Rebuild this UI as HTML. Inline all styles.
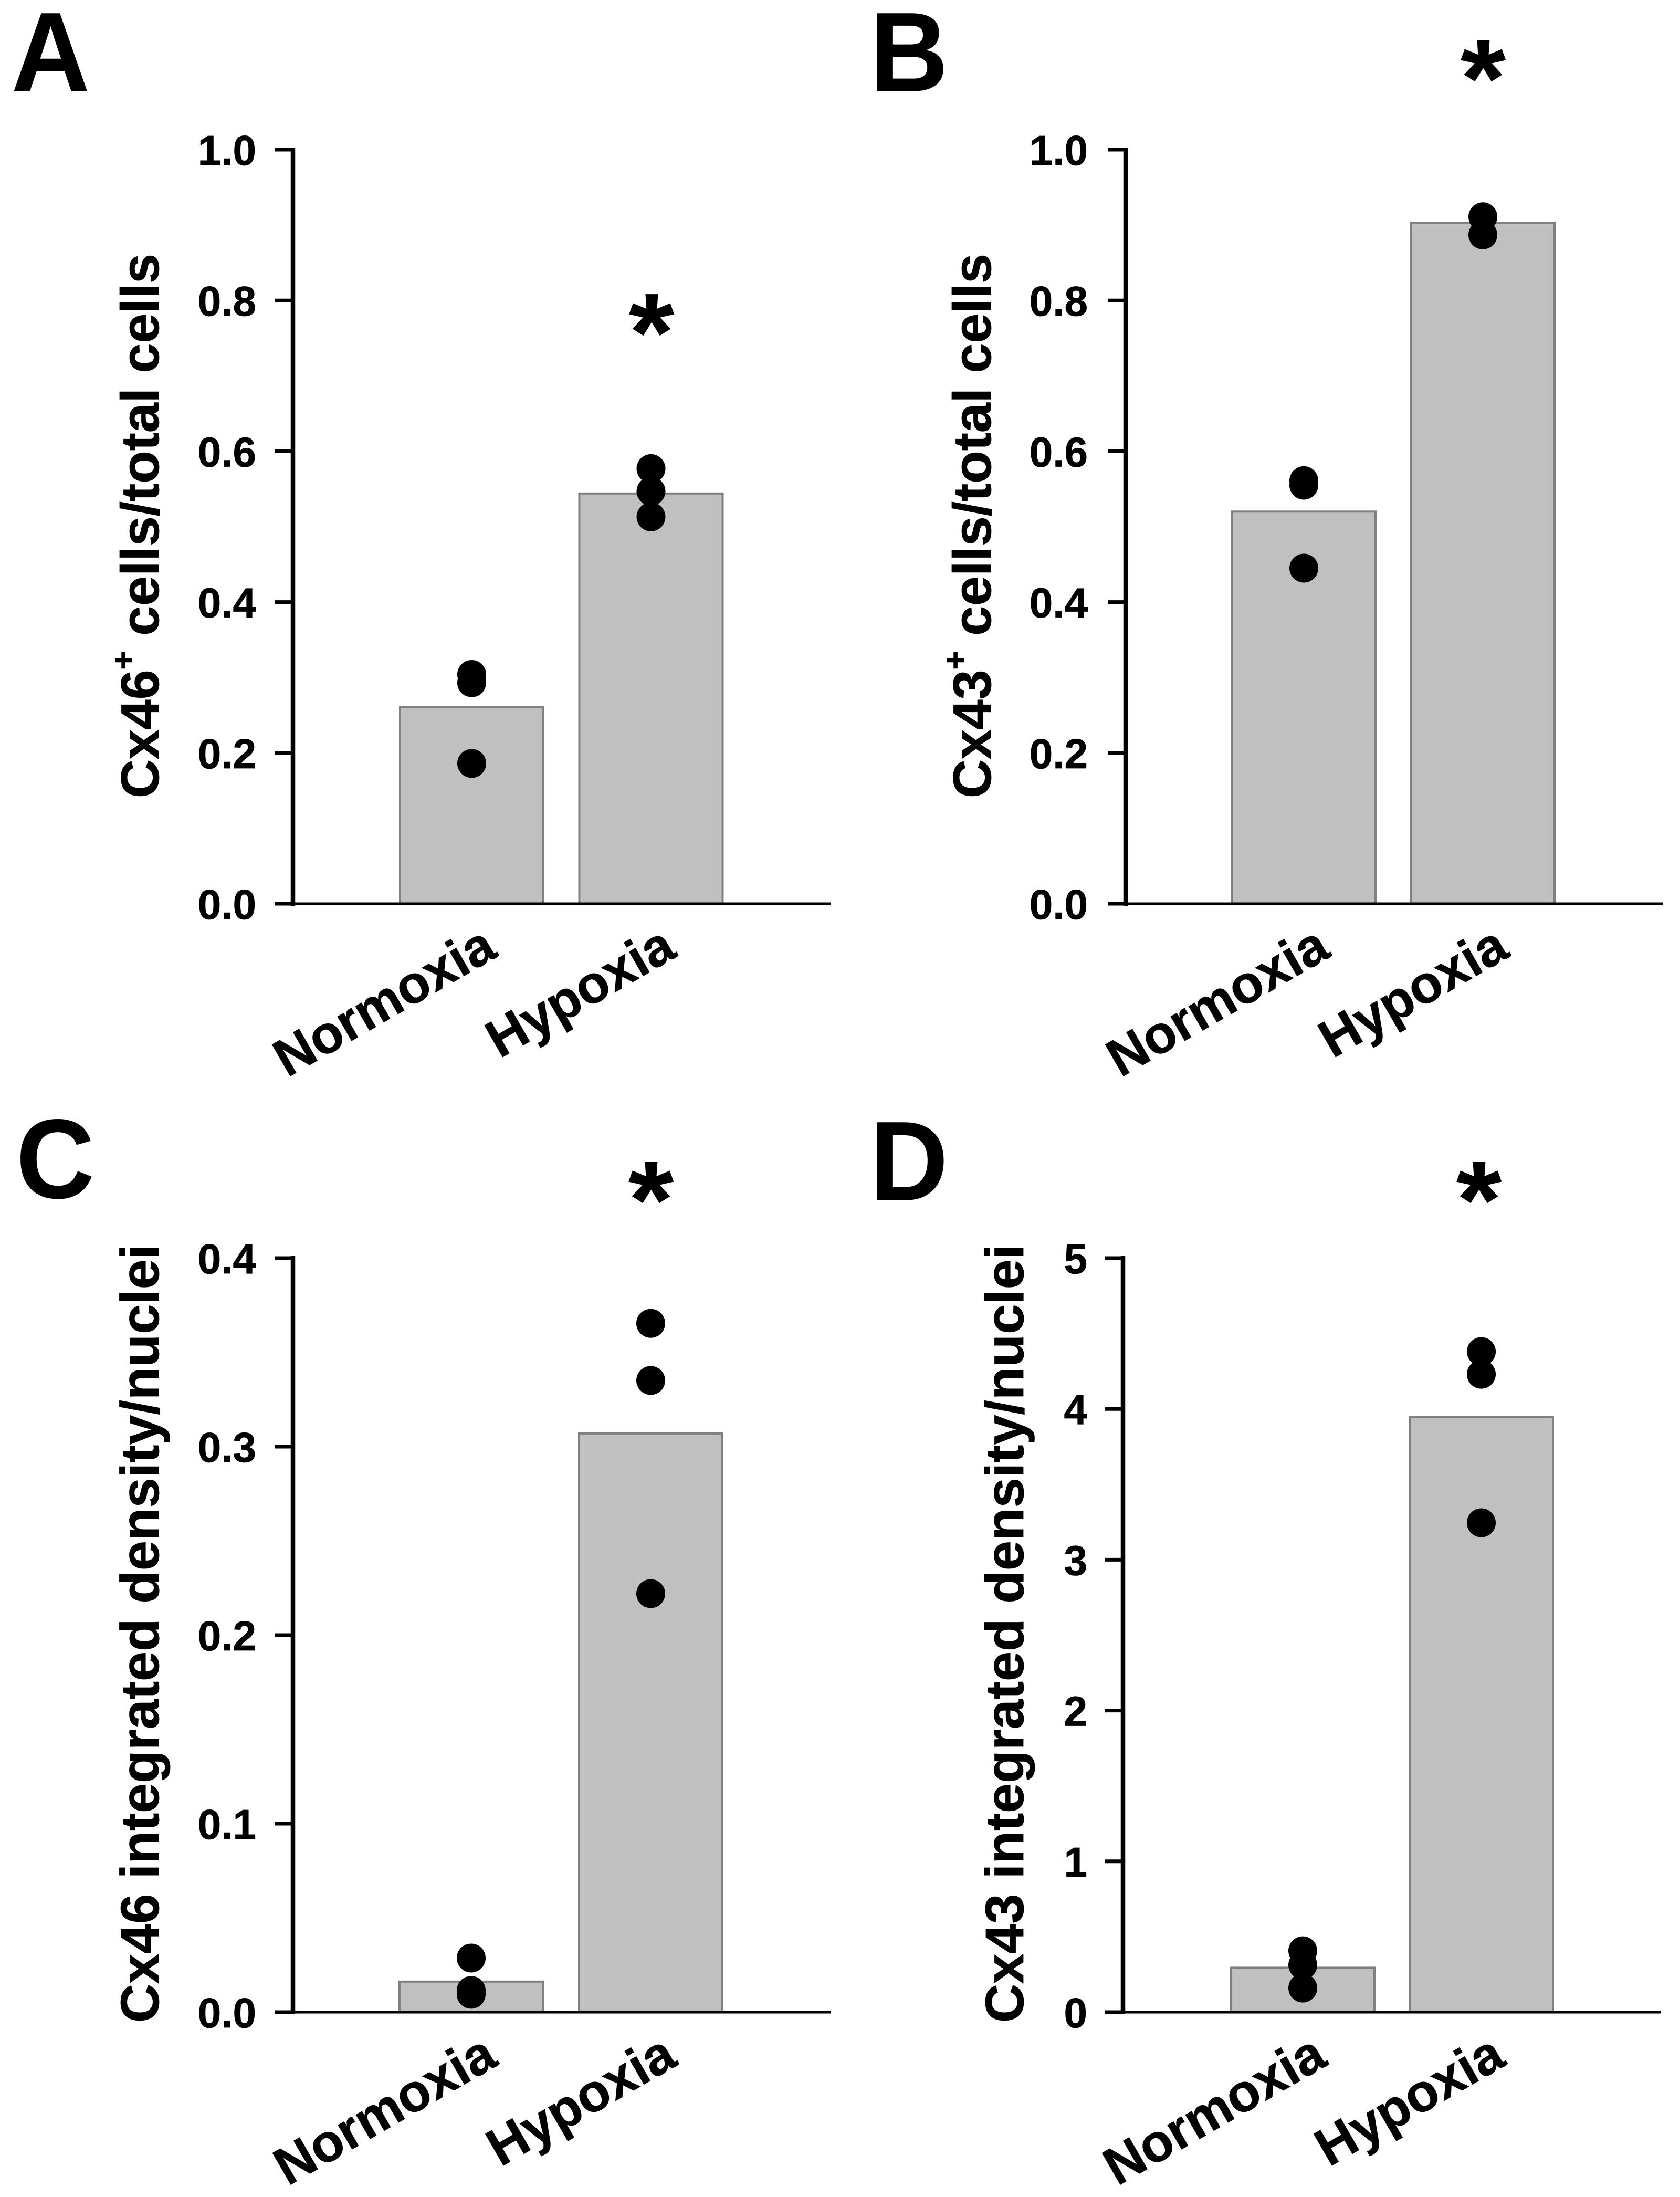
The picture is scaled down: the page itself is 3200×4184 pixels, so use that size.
<!DOCTYPE html>
<html lang="en">
<head>
<meta charset="utf-8">
<title>Cx46 and Cx43 under normoxia and hypoxia</title>
<style>
html,body{margin:0;padding:0;background:#fff;}
svg{display:block;}
text{font-family:"Liberation Sans",Arial,sans-serif;font-weight:bold;fill:#000;stroke:#000;stroke-width:0.8px;}
</style>
</head>
<body>
<svg id="figure" xmlns="http://www.w3.org/2000/svg" width="3200" height="4184" viewBox="0 0 3200 4184">
  <rect x="0" y="0" width="3200" height="4184" fill="#fff"/>

  <g id="panel-a">
    <text transform="translate(22 173) scale(1 1.04)" font-size="206">A</text>
    <text transform="translate(302 1520) rotate(-90)" font-size="102.3">Cx46<tspan font-size="62" dy="-46">+</tspan><tspan dy="46"> cells/total cells</tspan></text>
    <text transform="translate(1241 705) scale(1.05 1)" font-size="210" text-anchor="middle">*</text>
  </g>

  <g id="panel-b">
    <text transform="translate(1657 173) scale(1 1.04)" font-size="206">B</text>
    <text transform="translate(1887 1520) rotate(-90)" font-size="102.3">Cx43<tspan font-size="62" dy="-46">+</tspan><tspan dy="46"> cells/total cells</tspan></text>
    <text transform="translate(2825 221) scale(1.05 1)" font-size="210" text-anchor="middle">*</text>
  </g>

  <g id="panel-c">
    <text transform="translate(31 2281) scale(1 1.04)" font-size="206">C</text>
    <text transform="translate(302 3852) rotate(-90)" font-size="102.6">Cx46 integrated density/nuclei</text>
    <text transform="translate(1240 2357) scale(1.05 1)" font-size="210" text-anchor="middle">*</text>
  </g>

  <g id="panel-d">
    <text transform="translate(1657 2285) scale(1 1.04)" font-size="206">D</text>
    <text transform="translate(1949 3852) rotate(-90)" font-size="102.6">Cx43 integrated density/nuclei</text>
    <text transform="translate(2817 2357) scale(1.05 1)" font-size="210" text-anchor="middle">*</text>
  </g>
</svg>

<script>
// Shared categories
const categories = ["Normoxia", "Hypoxia"];

// Panel A values
const aTicks = [0, 0.2, 0.4, 0.6, 0.8, 1.0];
const aTickLabels = ["0.0", "0.2", "0.4", "0.6", "0.8", "1.0"];
const aBarValues = [0.261, 0.544];
const aNormoxiaPoints = [0.304, 0.293, 0.186];
const aHypoxiaPoints = [0.577, 0.547, 0.513];

// Panel B values
const bTicks = [0, 0.2, 0.4, 0.6, 0.8, 1.0];
const bTickLabels = ["0.0", "0.2", "0.4", "0.6", "0.8", "1.0"];
const bBarValues = [0.52, 0.903];
const bNormoxiaPoints = [0.561, 0.555, 0.445];
const bHypoxiaPoints = [0.911, 0.887];

// Panel C values
const cTicks = [0, 0.1, 0.2, 0.3, 0.4];
const cTickLabels = ["0.0", "0.1", "0.2", "0.3", "0.4"];
const cBarValues = [0.0162, 0.307];
const cNormoxiaPoints = [0.0287, 0.0115, 0.0095];
const cHypoxiaPoints = [0.3654, 0.3351, 0.222];

// Panel D values
const dTicks = [0, 1, 2, 3, 4, 5];
const dTickLabels = ["0", "1", "2", "3", "4", "5"];
const dBarValues = [0.2945, 3.945];
const dNormoxiaPoints = [0.407, 0.313, 0.16];
const dHypoxiaPoints = [4.38, 4.23, 3.245];

const SVG_NS = "http://www.w3.org/2000/svg";

function make(tag, attrs, parent) {
  const el = document.createElementNS(SVG_NS, tag);
  Object.keys(attrs).forEach(function (k) { el.setAttribute(k, attrs[k]); });
  parent.appendChild(el);
  return el;
}

function drawPanel(cfg) {
  const parent = document.getElementById("panel-" + cfg.id);
  const yTop = cfg.axisTop;
  const yBase = cfg.axisBase;
  const yMax = cfg.ticks[cfg.ticks.length - 1];
  const yScale = function (v) { return yBase - (v / yMax) * (yBase - yTop); };
  const xCenter = function (i) { return cfg.barLeft + cfg.barStep * i + cfg.barWidth / 2; };

  // bars
  cfg.bars.forEach(function (v, i) {
    const bar = make("rect", {
      x: xCenter(i) - cfg.barWidth / 2,
      y: yScale(v),
      width: cfg.barWidth,
      height: yBase - yScale(v),
      fill: "#c0c0c0",
      stroke: "#808080",
      "stroke-width": 4
    }, parent);
    
    
  });

  // x axis line
  const xAxis = make("line", {
    x1: cfg.axisX, x2: cfg.axisEnd, y1: yBase, y2: yBase, stroke: "#000", "stroke-width": 5
  }, parent);
  
  

  // y axis line
  const yAxis = make("line", {
    x1: cfg.axisX, x2: cfg.axisX, y1: yTop - 4, y2: yBase + 4, stroke: "#000", "stroke-width": 8.5
  }, parent);
  
  

  // ticks and tick labels
  cfg.ticks.forEach(function (t, i) {
    const tick = make("line", {
      x1: cfg.axisX - 34, x2: cfg.axisX, y1: yScale(t), y2: yScale(t), stroke: "#000", "stroke-width": 7
    }, parent);
    
    

    const label = make("text", {
      x: cfg.tickLabelX, y: yScale(t) + 29, "font-size": 80, "text-anchor": "end"
    }, parent);
    label.textContent = cfg.tickLabels[i];
    
    
  });

  // category labels, rotated about their end
  categories.forEach(function (name, i) {
    const lx = xCenter(i) + cfg.labelDx;
    const ly = yBase + cfg.labelDy;
    const label = make("text", {
      x: 0, y: 0, "font-size": 101, "text-anchor": "end",
      transform: "translate(" + lx + " " + ly + ") rotate(-30)"
    }, parent);
    label.textContent = name;
    
    
  });

  // points
  cfg.points.forEach(function (series, i) {
    series.forEach(function (v) {
      const dot = make("circle", {
        cx: xCenter(i), cy: yScale(v), r: 27.5, fill: "#000"
      }, parent);
      
      
    });
  });
}

drawPanel({
  id: "a", ticks: aTicks, tickLabels: aTickLabels, bars: aBarValues,
  points: [aNormoxiaPoints, aHypoxiaPoints],
  axisX: 558, axisEnd: 1582, axisTop: 285, axisBase: 1721,
  barLeft: 762, barStep: 341.5, barWidth: 273, tickLabelX: 488, labelDx: 52, labelDy: 99
});
drawPanel({
  id: "b", ticks: bTicks, tickLabels: bTickLabels, bars: bBarValues,
  points: [bNormoxiaPoints, bHypoxiaPoints],
  axisX: 2144, axisEnd: 3167, axisTop: 285, axisBase: 1721,
  barLeft: 2347, barStep: 341, barWidth: 273, tickLabelX: 2072, labelDx: 54, labelDy: 99
});
drawPanel({
  id: "c", ticks: cTicks, tickLabels: cTickLabels, bars: cBarValues,
  points: [cNormoxiaPoints, cHypoxiaPoints],
  axisX: 558, axisEnd: 1582, axisTop: 2396, axisBase: 3832,
  barLeft: 761, barStep: 342, barWidth: 273, tickLabelX: 488, labelDx: 54, labelDy: 99
});
drawPanel({
  id: "d", ticks: dTicks, tickLabels: dTickLabels, bars: dBarValues,
  points: [dNormoxiaPoints, dHypoxiaPoints],
  axisX: 2139, axisEnd: 3163, axisTop: 2396, axisBase: 3832,
  barLeft: 2345, barStep: 340, barWidth: 273, tickLabelX: 2071, labelDx: 50, labelDy: 99
});
</script>
</body>
</html>
